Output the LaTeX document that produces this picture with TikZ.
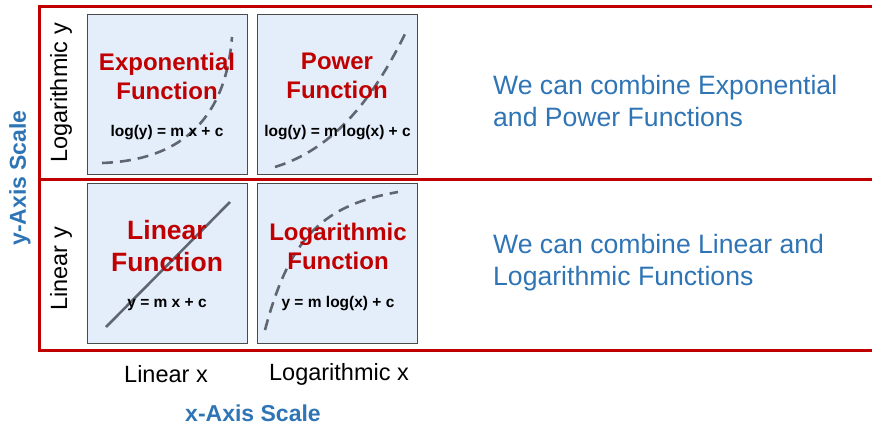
\documentclass[tikz,border=0pt]{standalone}
\usepackage{fontspec}
\setmainfont{Liberation Sans}
\definecolor{myred}{HTML}{C00000}
\definecolor{myblue}{HTML}{2F75B5}
\definecolor{boxfill}{HTML}{E4EEFB}
\definecolor{boxline}{HTML}{4A4A4A}
\definecolor{curvegray}{HTML}{5F6670}
\tikzset{
  rowbox/.style={draw=myred, line width=3pt},
  fnbox/.style={draw=boxline, fill=boxfill, line width=0.9pt, minimum width=160pt, minimum height=160pt, inner sep=0pt},
  fntitle/.style={text=myred, font=\bfseries\fontsize{24}{29}\selectfont, align=center, inner sep=0pt},
  fnbig/.style={text=myred, font=\bfseries\fontsize{26.5}{32}\selectfont, align=center, inner sep=0pt},
  formula/.style={font=\bfseries\fontsize{15.5}{18}\selectfont, inner sep=0pt},
  axlabel/.style={font=\fontsize{23.5}{28}\selectfont, inner sep=0pt},
  axtitle/.style={text=myblue, font=\bfseries\fontsize{23}{28}\selectfont, inner sep=0pt},
  note/.style={text=myblue, font=\fontsize{26.6}{32}\selectfont, align=left, inner sep=0pt, anchor=west},
  dashcurve/.style={draw=curvegray, line width=2.6pt, dash pattern=on 11pt off 7pt},
  solidcurve/.style={draw=curvegray, line width=2.6pt}
}
\begin{document}
\begin{tikzpicture}[x=1pt, y=-1pt]
\useasboundingbox (0,0) rectangle (872,428);
\clip (0,0) rectangle (872,428);
% row frames
\draw[rowbox] (39,7) rectangle (890,179);
\draw[rowbox] (39,179) rectangle (890,350);
% function boxes
\node[fnbox] (exp) at (167,94) {};
\node[fnbox] (pow) at (337.5,94) {};
\node[fnbox] (lin) at (167,263.5) {};
\node[fnbox] (log) at (337.5,263.5) {};
% curves
\draw[dashcurve] (102,163) .. controls (185,160) and (226,115) .. (232,37);
\draw[dashcurve] (275,167) .. controls (330,150) and (370,105) .. (405,34);
\draw[solidcurve] (106,327) -- (230,202);
\draw[dashcurve] (265,330) .. controls (290,235) and (325,205) .. (398,192);
% titles
\node[fntitle] (expt) at (167,76) {Exponential\\Function};
\node[fntitle] (powt) at (337,76) {Power\\Function};
\node[fnbig] (lint) at (167,246) {Linear\\Function};
\node[fntitle] (logt) at (338,246) {Logarithmic\\Function};
% formulas
\node[formula] (expf) at (167,133) {log(y) = m x + c};
\node[formula] (powf) at (337.5,133) {log(y) = m log(x) + c};
\node[formula] (linf) at (167,305) {y = m x + c};
\node[formula] (logf) at (338,304) {y = m log(x) + c};
% axis labels
\node[axlabel, rotate=90] (logy) at (61,93) {Logarithmic y};
\node[axlabel, rotate=90] (liny) at (61,269) {Linear y};
\node[axlabel] (linx) at (166,374) {Linear x};
\node[axlabel] (logx) at (339,374) {Logarithmic x};
\node[axtitle] (xaxis) at (253,413) {x-Axis Scale};
\node[axtitle, rotate=90] (yaxis) at (20,178) {y-Axis Scale};
% notes
\node[note] (n1) at (493,101) {We can combine Exponential\\and Power Functions};
\node[note] (n2) at (493,263) {We can combine Linear and\\Logarithmic Functions};
\end{tikzpicture}
\end{document}
